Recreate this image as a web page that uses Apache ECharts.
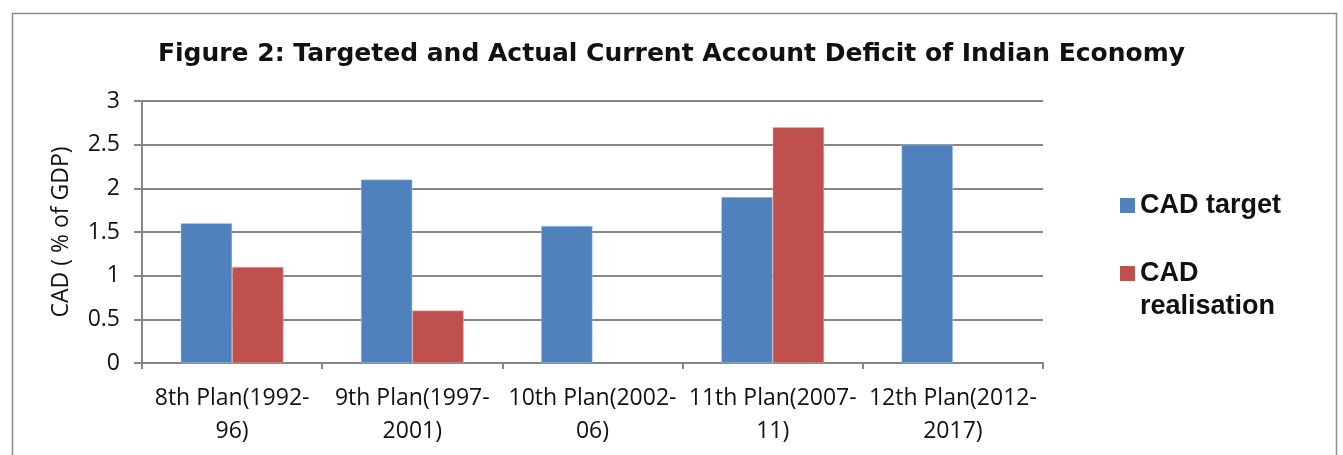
<!DOCTYPE html>
<html>
<head>
<meta charset="utf-8">
<script src="https://cdn.jsdelivr.net/npm/echarts@6/dist/echarts.min.js"></script>
<style>html,body{margin:0;padding:0;background:#fff;}#c{width:1343px;height:455px;}</style>
</head>
<body>
<div id="c"></div>
<script>
const categories = ["8th Plan(1992-96)", "9th Plan(1997-2001)", "10th Plan(2002-06)", "11th Plan(2007-11)", "12th Plan(2012-2017)"];
const cadTarget = [1.6, 2.1, 1.57, 1.9, 2.5];
const cadRealisation = [1.1, 0.6, null, 2.7, null];
const yTicks = [0, 0.5, 1, 1.5, 2, 2.5, 3];

const chart = echarts.init(document.getElementById('c'));
const labelFont = '"Open Sans", "Noto Sans", sans-serif';
const legendText = { fontFamily: 'Arial, "Liberation Sans", sans-serif', fontWeight: 'bold', fontSize: 27, color: '#111', lineHeight: 33 };
chart.setOption({
  animation: false,
  backgroundColor: '#fff',
  graphic: [{
    type: 'rect', left: 10, top: 11,
    shape: { width: 1324, height: 460 },
    style: { fill: 'none', stroke: '#8c8c8c', lineWidth: 1.5 }
  }],
  title: {
    text: 'Figure 2: Targeted and Actual Current Account Deficit of Indian Economy',
    left: 'center', top: 37,
    textStyle: { fontFamily: '"DejaVu Sans", sans-serif', fontWeight: 'bold', fontSize: 25, color: '#111' }
  },
  legend: [{
    orient: 'vertical', left: 1120, top: 189, padding: 0,
    itemWidth: 15, itemHeight: 15, icon: 'rect',
    data: ['CAD target'],
    itemStyle: { borderWidth: 0 },
    textStyle: legendText
  }, {
    orient: 'vertical', left: 1120, top: 224, padding: 0,
    itemWidth: 15, itemHeight: 15, icon: 'rect',
    data: ['CAD realisation'],
    itemStyle: { borderWidth: 0 },
    formatter: function (n) { return ' \n' + n.replace(' ', '\n'); },
    textStyle: legendText
  }],
  grid: { left: 142, right: 300, top: 101, bottom: 92 },
  xAxis: {
    type: 'category', data: categories,
    axisLine: { lineStyle: { color: '#868686', width: 2 } },
    axisTick: { show: true, alignWithLabel: false, length: 6, lineStyle: { color: '#868686', width: 2 } },
    axisLabel: {
      interval: 0, margin: 19, color: '#111', fontFamily: labelFont, fontSize: 23, lineHeight: 33,
      formatter: function (v) { const i = v.indexOf('-'); return v.slice(0, i + 1) + '\n' + v.slice(i + 1); }
    }
  },
  yAxis: {
    type: 'value', min: yTicks[0], max: yTicks[yTicks.length - 1], interval: 0.5,
    name: 'CAD ( % of GDP)', nameLocation: 'middle', nameGap: 69, nameRotate: 90,
    nameTextStyle: { fontFamily: labelFont, fontSize: 23, color: '#111' },
    axisLine: { show: true, lineStyle: { color: '#868686', width: 2 } },
    axisTick: { show: true, length: 8, lineStyle: { color: '#868686', width: 2 } },
    splitLine: { lineStyle: { color: '#868686', width: 2 } },
    axisLabel: { margin: 22, color: '#111', fontFamily: labelFont, fontSize: 23 }
  },
  series: [
    { name: 'CAD target', type: 'bar', data: cadTarget, barGap: '0%', barCategoryGap: '43%',
      itemStyle: { color: '#4F81BD', borderColor: '#b9cde5', borderWidth: 0.5 } },
    { name: 'CAD realisation', type: 'bar', data: cadRealisation,
      itemStyle: { color: '#C0504D', borderColor: '#e6b9b8', borderWidth: 0.5 } }
  ]
});
</script>
</body>
</html>
